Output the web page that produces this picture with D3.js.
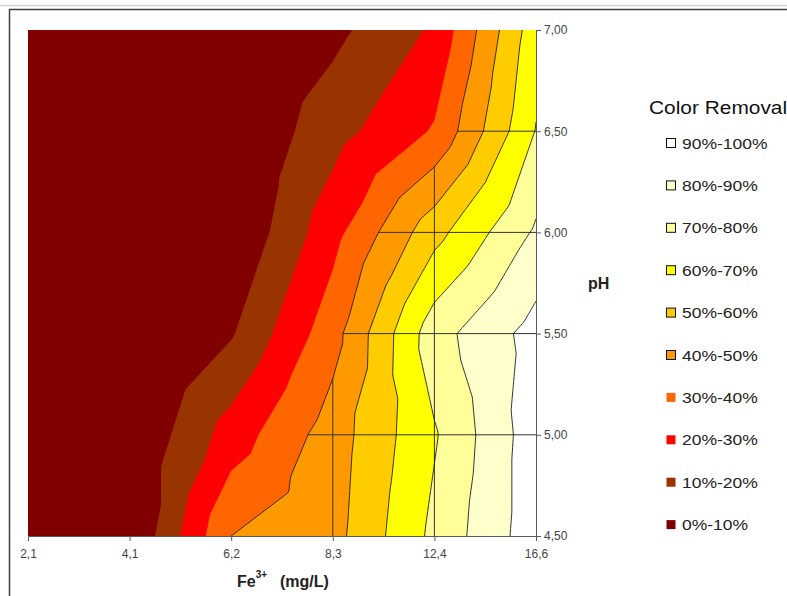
<!DOCTYPE html>
<html><head><meta charset="utf-8">
<script src="https://cdn.jsdelivr.net/npm/d3@7"></script>
<style>body{margin:0;background:#fff}svg{display:block;font-family:"Liberation Sans",Arial,sans-serif}</style>
</head><body>
<script>
// ---- data ----
const feLabels = ["2,1", "4,1", "6,2", "8,3", "12,4", "16,6"];      // Fe3+ (mg/L) categories
const phLabels = ["4,50", "5,00", "5,50", "6,00", "6,50", "7,00"];  // pH series
// colour removal (%) at each Fe3+ category, one array per pH
const removalPH450 = [0, 0, 40, 46.5, 72.5, 96];
const removalPH500 = [0, 0, 24.5, 45, 69, 96];
const removalPH550 = [0, 0, 9, 36, 76, 94];
const removalPH600 = [0, 0, 0, 26.5, 56.5, 81.5];
const removalPH650 = [0, 0, 0, 16, 31, 70.4];
const removalPH700 = [0, 0, 0, 7.3, 21.5, 66];
const bandThresholds = [0, 10, 20, 30, 40, 50, 60, 70, 80, 90];
const bandLabels = ["0%-10%", "10%-20%", "20%-30%", "30%-40%", "40%-50%", "50%-60%", "60%-70%", "70%-80%", "80%-90%", "90%-100%"];
const bandColors = ["#800000", "#993300", "#FF0000", "#FF6600", "#FF9900", "#FFCC00", "#FFFF00", "#FFFF99", "#FFFFCC", "#FFFFFF"];

const grid = [removalPH450, removalPH500, removalPH550, removalPH600, removalPH650, removalPH700];

// ---- layout ----
const W = 787, H = 596;
const L = 28, R = 536, T = 30, B = 536;
const svg = d3.select("body").append("svg").attr("width", W).attr("height", H);

// frame lines
svg.append("line").attr("x1", 0).attr("x2", W).attr("y1", 5.5).attr("y2", 5.5).attr("stroke", "#c9d0d8").attr("stroke-width", 1.5);
svg.append("path").attr("d", `M${W},9.5H9.5V${H}`).attr("fill", "none").attr("stroke", "#404040").attr("stroke-width", 1.5);

const xScale = d3.scalePoint().domain(feLabels).range([L, R]);
const yScale = d3.scalePoint().domain(phLabels).range([B, T]);
const nC = feLabels.length - 1, nR = phLabels.length - 1;
const xi = d3.scaleLinear().domain([0, nC]).range([L, R]);
const yi = d3.scaleLinear().domain([0, nR]).range([T, B]); // index from top

// surface interpolation (each cell split in 4 triangles around its centre)
function surf(fx, fy) {
  const i = Math.min(Math.floor(fx), nC - 1), j = Math.min(Math.floor(fy), nR - 1);
  const u = fx - i, w = fy - j;
  const a = grid[j][i], b = grid[j][i + 1], c = grid[j + 1][i], d = grid[j + 1][i + 1];
  const m = (a + b + c + d) / 4;
  if (w <= u && w <= 1 - u) return a + (b - a) * u + (2 * m - a - b) * w;
  if (w >= u && w >= 1 - u) return c + (d - c) * u + (c + d - 2 * m) * (w - 1);
  if (u <= w && u <= 1 - w) return a + (c - a) * w + (2 * m - a - c) * u;
  return b + (d - b) * w + (b + d - 2 * m) * (u - 1);
}
const S = 40;
const NX = nC * S + 1, NY = nR * S + 1;
const vals = new Float64Array(NX * NY);
for (let gy = 0; gy < NY; gy++) {
  const fy = nR - gy / S;
  for (let gx = 0; gx < NX; gx++) vals[gy * NX + gx] = surf(gx / S, fy);
}
const contours = d3.contours().size([NX, NY]).thresholds(bandThresholds.slice(1))(vals);
const proj = d3.geoTransform({ point(x, y) { this.stream.point(xi((x - 0.5) / S), yi((y - 0.5) / S)); } });
const path = d3.geoPath(proj);

const defs = svg.append("defs");
defs.append("clipPath").attr("id", "plotclip").append("rect").attr("x", L).attr("y", T).attr("width", R - L).attr("height", B - T);
const c40 = contours.find(c => c.value === 40);
defs.append("clipPath").attr("id", "hiclip").append("path").attr("d", path(c40));

const plot = svg.append("g").attr("clip-path", "url(#plotclip)");
plot.append("rect").attr("x", L).attr("y", T).attr("width", R - L).attr("height", B - T).attr("fill", bandColors[0]);
plot.selectAll("path.band").data(contours).join("path").attr("class", "band")
  .attr("d", path).attr("fill", d => bandColors[bandThresholds.indexOf(d.value)]);

// gridlines only visible in bordered bands
const gg = plot.append("g").attr("clip-path", "url(#hiclip)");
gg.selectAll("line.v").data(feLabels.slice(1, -1)).join("line").attr("class", "v")
  .attr("x1", d => xScale(d)).attr("x2", d => xScale(d)).attr("y1", T).attr("y2", B)
  .attr("stroke", "#333").attr("stroke-width", 1);
gg.selectAll("line.h").data(phLabels.slice(1, -1)).join("line").attr("class", "h")
  .attr("y1", d => yScale(d)).attr("y2", d => yScale(d)).attr("x1", L).attr("x2", R)
  .attr("stroke", "#333").attr("stroke-width", 1);

plot.selectAll("path.edge").data(contours.filter(c => c.value >= 40)).join("path").attr("class", "edge")
  .attr("d", path).attr("fill", "none").attr("stroke", "#1a1a1a").attr("stroke-width", 0.9);

// axes
const ax = svg.append("g").attr("transform", `translate(0,${B})`)
  .call(d3.axisBottom(xScale).tickSize(5).tickSizeOuter(0).tickPadding(8));
const ay = svg.append("g").attr("transform", `translate(${R},0)`)
  .call(d3.axisRight(yScale).tickSize(5).tickSizeOuter(0).tickPadding(3));
[ax, ay].forEach(g => {
  g.select(".domain").attr("stroke", "#595959");
  g.selectAll(".tick line").attr("stroke", "#595959");
  g.selectAll(".tick text").attr("fill", "#444").attr("font-size", 12).attr("font-family", "Liberation Sans, Arial, sans-serif");
});

// axis titles
const xt = svg.append("text").attr("x", 237).attr("y", 587).attr("font-weight", "bold").attr("font-size", 16).attr("fill", "#222");
xt.append("tspan").text("Fe");
xt.append("tspan").attr("font-size", 10).attr("dy", -9).text("3+");
xt.append("tspan").attr("x", 280).attr("dy", 9).text("(mg/L)");
svg.append("text").attr("x", 588).attr("y", 289).attr("font-weight", "bold").attr("font-size", 16).attr("fill", "#222").text("pH");

// legend
svg.append("text").attr("transform", "translate(649,114) scale(1.13,1)").attr("font-size", 18.5).attr("fill", "#111").text("Color Removal");
const order = d3.range(bandLabels.length).reverse();
const lg = svg.selectAll("g.leg").data(order).join("g").attr("class", "leg")
  .attr("transform", (d, k) => `translate(0,${143 + k * 42.4})`);
lg.append("rect").attr("x", 666.5).attr("y", -4.5).attr("width", 9).attr("height", 9)
  .attr("fill", d => bandColors[d]).attr("stroke", d => bandThresholds[d] >= 40 ? "#111" : "none").attr("stroke-width", 1);
lg.append("text").attr("transform", "translate(682,0) scale(1.13,1)").attr("dy", "0.36em")
  .attr("font-size", 15.5).attr("fill", "#222").text(d => bandLabels[d]);
</script>
</body></html>
